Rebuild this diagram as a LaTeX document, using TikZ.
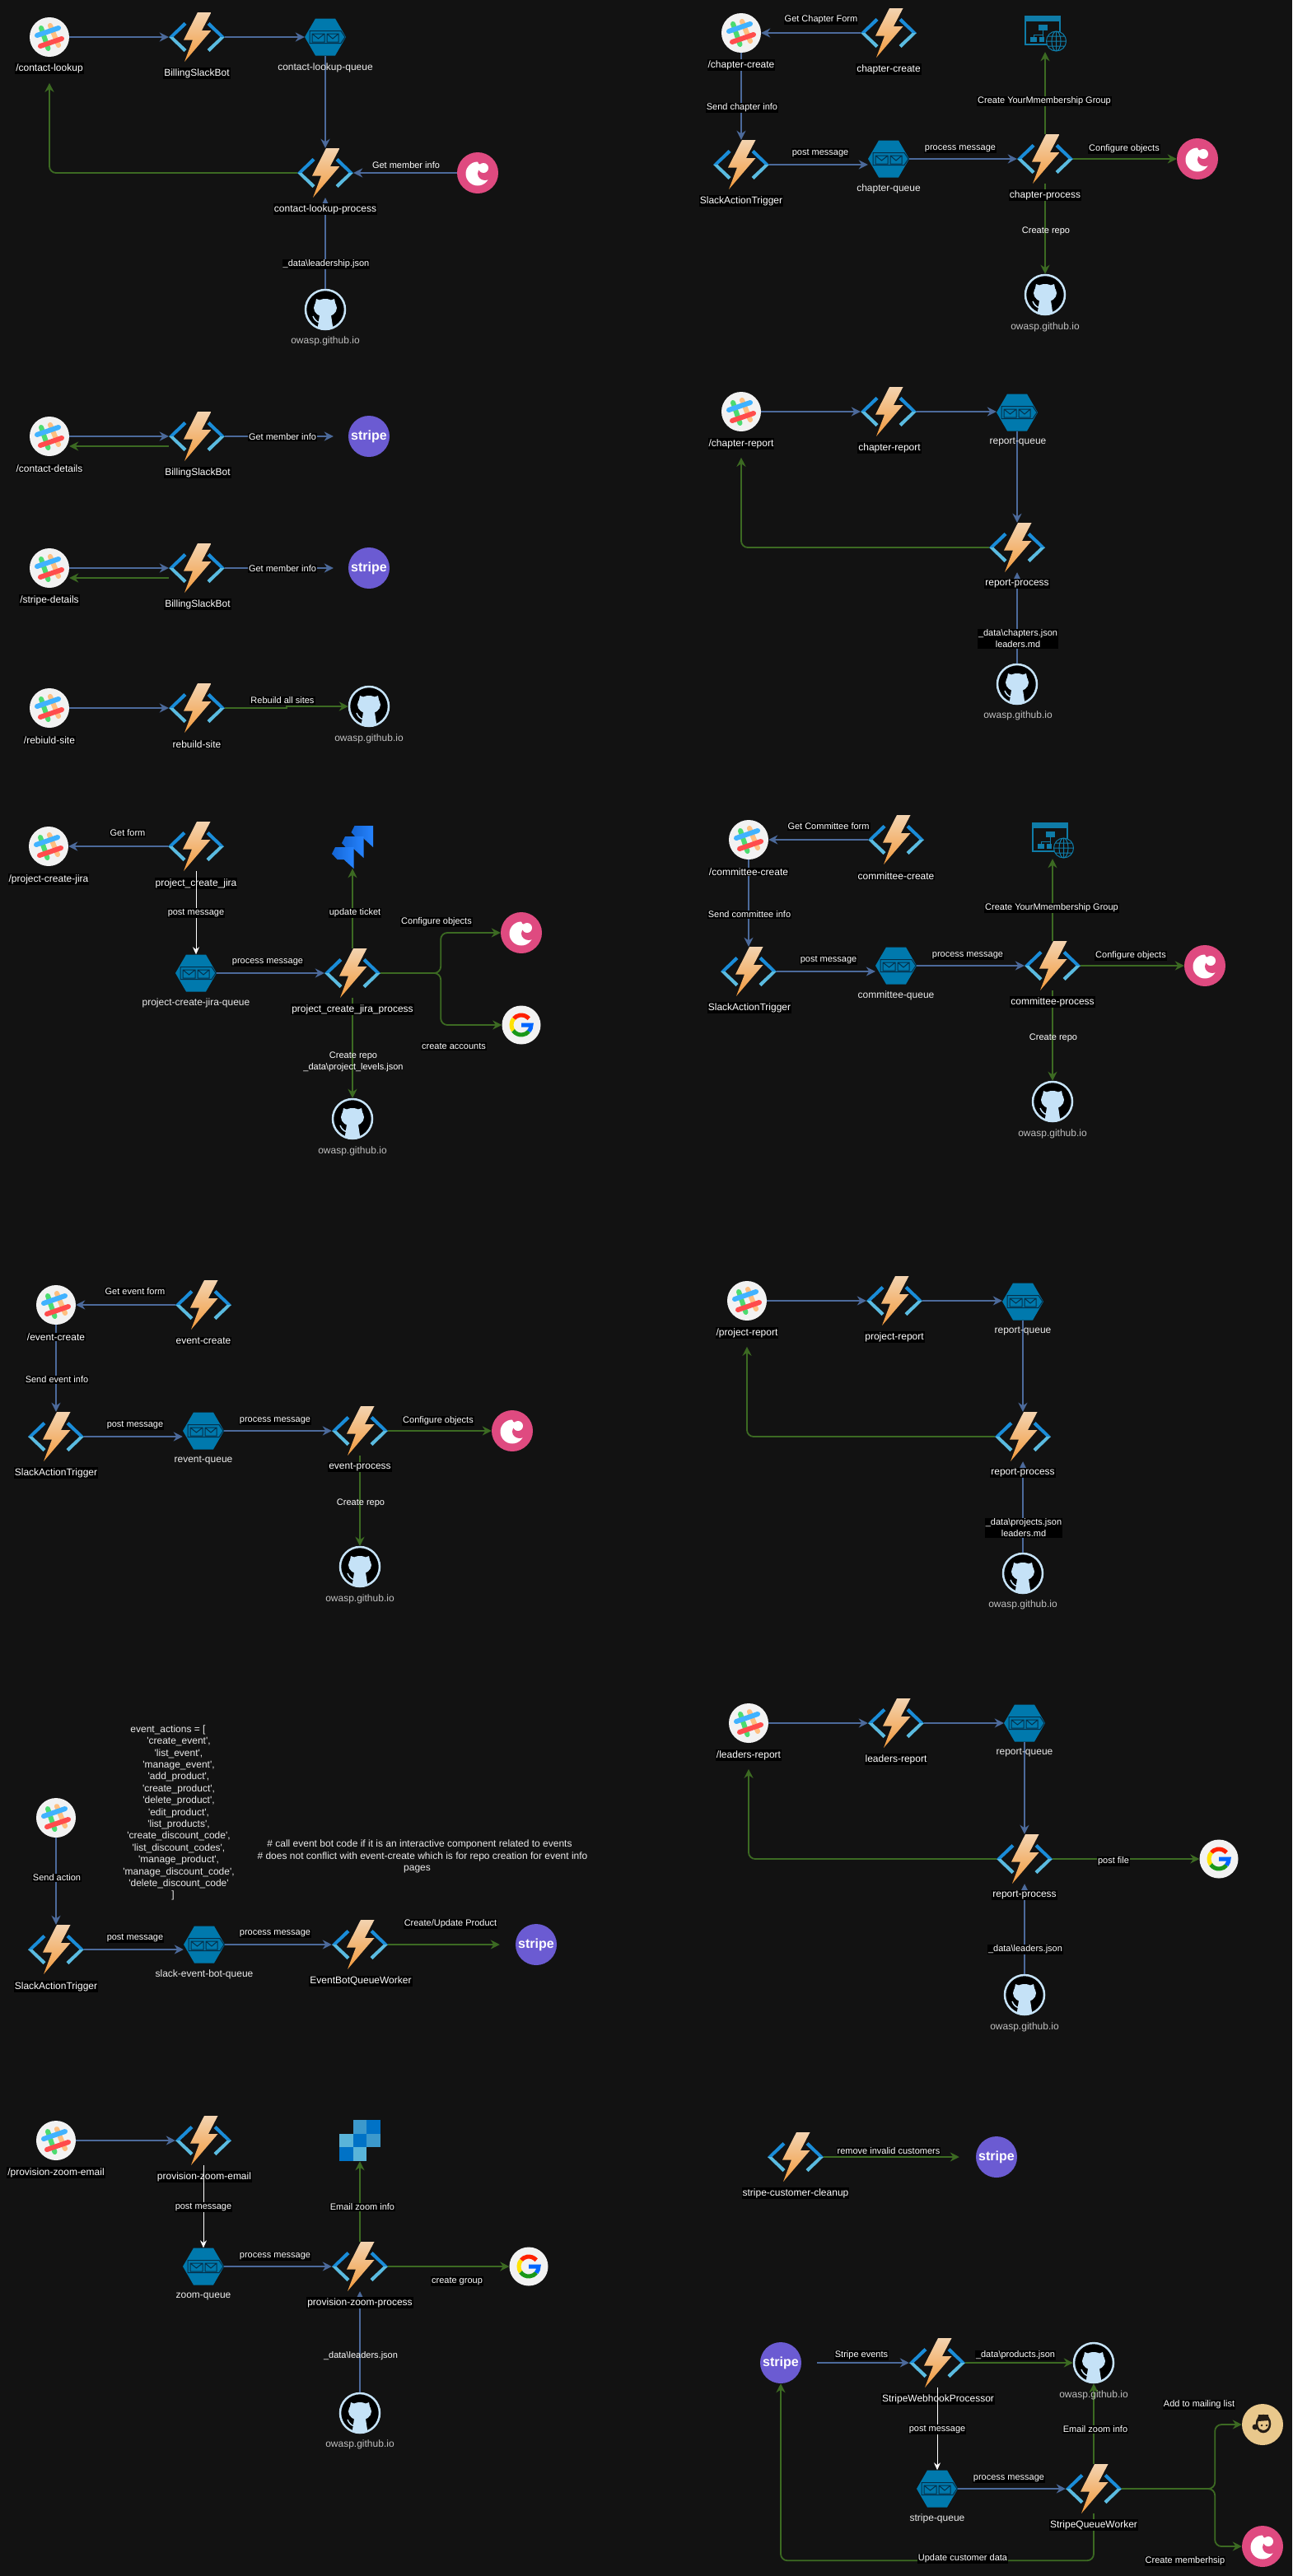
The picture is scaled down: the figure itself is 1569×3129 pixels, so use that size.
\documentclass[tikz,border=0pt]{standalone}
\usepackage{fontspec}
\usepackage{amsmath}
\usepackage{tikz}
\usetikzlibrary{arrows.meta,shapes.geometric}
\newfontfamily\labelfont{Liberation Sans}
\definecolor{bgdark}{HTML}{121212}
\definecolor{flowblue}{HTML}{4C6A9B}
\definecolor{flowgreen}{HTML}{3C6A22}
\definecolor{armdark}{HTML}{1A8CD8}
\definecolor{armlight}{HTML}{5ABBE0}
\definecolor{bolttop}{HTML}{F3D3B0}
\definecolor{boltlow}{HTML}{F39A3C}
\definecolor{queueblue}{HTML}{0079AD}
\definecolor{queueline}{HTML}{05304A}
\definecolor{coppink}{HTML}{DF4A80}
\definecolor{stripeviolet}{HTML}{6B5BD2}
\definecolor{hubblue}{HTML}{C5E2F7}
\definecolor{ymblue}{HTML}{0F7CA8}
\definecolor{chimptan}{HTML}{E9C88C}
\definecolor{chimpdark}{HTML}{241C15}
\definecolor{jiralow}{HTML}{1464D2}
\definecolor{jirahigh}{HTML}{2684FF}
\tikzset{
  tagbox/.style={fill=black,text=white,inner sep=1pt,font=\labelfont\fontsize{12}{14.4}\selectfont},
  freetag/.style={text=black!8!white,inner sep=1pt,font=\labelfont\fontsize{12}{14.4}\selectfont,align=center},
  gittag/.style={text=black!25!white,inner sep=1pt,font=\labelfont\fontsize{12}{14.4}\selectfont},
  msgtag/.style={fill=black,text=white,inner sep=1pt,align=center,font=\labelfont\fontsize{11}{14}\selectfont},
  loosemsg/.style={text=white,inner sep=1pt,align=center,font=\labelfont\fontsize{11}{14}\selectfont},
  bflow/.style={draw=flowblue,line width=1.8pt,-{Stealth[length=11pt,width=11pt]}},
  gflow/.style={draw=flowgreen,line width=1.8pt,-{Stealth[length=11pt,width=11pt]}},
  wflow/.style={draw=white,line width=1pt,-{Stealth[length=9pt,width=8pt]}},
  slackicon/.style={shape=circle,minimum size=48pt,inner sep=0pt,fill=black!5!white,path picture={
    \begin{scope}[shift={(path picture bounding box.center)},line width=6pt,line cap=round]
    \draw[color=green!60!teal!70!white] (-10,-11) -- (-1.5,14);
    \draw[color=orange!50!white] (1,-14) -- (11,10);
    \draw[color=blue!40!cyan!75!white] (-15,-2) -- (11,-11);
    \draw[color=red!70!white] (-11,11) -- (15,2);
    \end{scope}}},
  funcicon/.style={shape=rectangle,minimum width=68pt,minimum height=60pt,inner sep=0pt,path picture={
    \begin{scope}[shift={(path picture bounding box.center)}]
    \fill[armdark] (-34,0) -- (-15.5,-18) -- (-12.5,-15) -- (-28.5,0) -- cycle;
    \fill[armlight] (-34,0) -- (-28.5,0) -- (-12.5,15) -- (-15.5,18) -- cycle;
    \fill[armdark] (34,0) -- (15.5,-18) -- (12.5,-15) -- (28.5,0) -- cycle;
    \fill[armlight] (34,0) -- (28.5,0) -- (12.5,15) -- (15.5,18) -- cycle;
    \shade[top color=bolttop,bottom color=boltlow] (1,-30) -- (17.5,-30) -- (6,-8) -- (17.5,-8) -- (-15,30) -- (-5,3.5) -- (-16,3.5) -- cycle;
    \end{scope}}},
  queueicon/.style={shape=rectangle,minimum width=50pt,minimum height=45pt,inner sep=0pt,path picture={
    \begin{scope}[shift={(path picture bounding box.center)}]
    \fill[queueblue] (-25,0) -- (-12,-22.5) -- (12,-22.5) -- (25,0) -- (12,22.5) -- (-12,22.5) -- cycle;
    \draw[queueline,line width=1pt] (-19,-7.5) -- (19,-7.5) -- (24,0) -- (19,7.5) -- (-19,7.5) -- cycle;
    \draw[queueline,line width=1pt] (-16,-4) rectangle (-1,6) (-16,-4) -- (-8.5,2) -- (-1,-4);
    \draw[queueline,line width=1pt] (2,-4) rectangle (16,6) (2,-4) -- (9,2) -- (16,-4);
    \end{scope}}},
  coppericon/.style={shape=circle,minimum size=50pt,inner sep=0pt,fill=coppink,path picture={
    \begin{scope}[shift={(path picture bounding box.center)}]
    \fill[white] (0,1) circle (14.5pt);
    \fill[coppink] (9,1) ellipse [x radius=9pt,y radius=8pt];
    \fill[coppink] (4,-14) circle (4pt);
    \fill[white] (7,-6) circle (6pt);
    \end{scope}}},
  stripeicon/.style={shape=circle,minimum size=50pt,inner sep=0pt,fill=stripeviolet,text=white,font=\labelfont\bfseries\fontsize{16}{16}\selectfont},
  hubicon/.style={shape=circle,minimum size=48pt,inner sep=0pt,fill=black,draw=hubblue,line width=2.5pt,path picture={
    \begin{scope}[shift={(path picture bounding box.center)}]
    \fill[hubblue] (0,-2) ellipse [x radius=14pt,y radius=11pt];
    \fill[hubblue] (-13,-3) -- (-11,-13) -- (-3,-10) -- cycle;
    \fill[hubblue] (13,-3) -- (11,-13) -- (3,-10) -- cycle;
    \fill[hubblue] (-7,7) -- (7,7) -- (10,27) -- (-10,27) -- cycle;
    \draw[hubblue,line width=1.5pt] (-15,8) .. controls (-12,15) and (-8,16) .. (-6,15);
    \end{scope}}},
  gicon/.style={shape=circle,minimum size=47pt,inner sep=0pt,fill=black!5!white,path picture={
    \begin{scope}[shift={(path picture bounding box.center)},line width=5pt]
    \draw[color=red!75!orange] ([shift={(40:12pt)}]0,0) arc[start angle=40,end angle=140,radius=12pt];
    \draw[color=yellow!85!orange] ([shift={(140:12pt)}]0,0) arc[start angle=140,end angle=215,radius=12pt];
    \draw[color=green!55!black!90!white] ([shift={(215:12pt)}]0,0) arc[start angle=215,end angle=320,radius=12pt];
    \draw[color=blue!60!cyan] ([shift={(320:12pt)}]0,0) arc[start angle=320,end angle=360,radius=12pt] -- (0,0);
    \end{scope}}},
  jiraicon/.style={shape=rectangle,minimum size=52pt,inner sep=0pt,path picture={
    \begin{scope}[shift={(path picture bounding box.center)}]
    \foreach \jx/\jy in {-1.5/-26,-13/-13,-25/0}
      \shade[left color=jiralow,right color=jirahigh] (\jx+4,\jy) -- ++(22.5,0) -- ++(0,26) -- ++(-12,-11) -- ++(-8,0) -- ++(-6.5,-7) -- cycle;
    \end{scope}}},
  ymicon/.style={shape=rectangle,minimum width=52pt,minimum height=44pt,inner sep=0pt,path picture={
    \begin{scope}[shift={(path picture bounding box.center)}]
    \draw[ymblue,line width=1.3pt] (-24,-21) rectangle (18,13);
    \fill[ymblue] (-24,-21) rectangle (18,-15);
    \fill[ymblue] (-8,-11) rectangle (3,-4);
    \draw[ymblue,line width=1pt] (-2.5,-4) -- (-2.5,1) (-14,4) -- (-14,1) -- (-3,1) -- (-3,4);
    \fill[ymblue] (-18,4) rectangle (-10,10);
    \fill[ymblue] (-7,4) rectangle (-1,10);
    \fill[bgdark] (13.5,9) circle (12pt);
    \draw[ymblue,line width=1pt] (13.5,9) circle (12pt) (13.5,9) ellipse [x radius=5.5pt,y radius=12pt] (1.5,9) -- (25.5,9) (3,3) -- (24,3) (3,15) -- (24,15) (13.5,-3) -- (13.5,21);
    \end{scope}}},
  azicon/.style={shape=rectangle,minimum size=50pt,inner sep=0pt,path picture={
    \begin{scope}[shift={(path picture bounding box.center)}]
    \foreach \ax/\ay/\acol in {0/-25/3C99CC,16.67/-25/0072C6,-16.67/-8.33/59B4D9,0/-8.33/0072C6,16.67/-8.33/3C99CC,-16.67/8.33/0072C6,0/8.33/59B4D9}{
      \definecolor{azcell}{HTML}{\acol}
      \fill[azcell] (\ax-8.33,\ay) rectangle (\ax+8.33,\ay+16.67);}
    \end{scope}}},
  chimpicon/.style={shape=circle,minimum size=50pt,inner sep=0pt,fill=chimptan,path picture={
    \begin{scope}[shift={(path picture bounding box.center)}]
    \fill[chimpdark] (-9,3) circle (3.5pt);
    \draw[chimpdark,line width=2.5pt,fill=chimptan] (1,-1) ellipse [x radius=8pt,y radius=10pt];
    \fill[chimpdark] (-5,-12) -- (7,-12) -- (8,-5) -- (-6,-4) -- cycle;
    \fill[chimpdark] (5,1) circle (1.3pt) (-1,1) circle (1.3pt);
    \draw[chimpdark,line width=1pt] (-3,6) .. controls (0,8) and (4,8) .. (6,5);
    \end{scope}}}
}
\begin{document}
\begin{tikzpicture}[x=1pt,y=-1pt]
\fill[bgdark] (0,0) rectangle (1569,3129);
\useasboundingbox (0,0) rectangle (1569,3129);

\node[slackicon] (slack1) at (60,45) {};
\node[funcicon] (bot1) at (239,45) {};
\node[queueicon] (queue1) at (395,45) {};
\node[funcicon] (proc1) at (395,210) {};
\node[coppericon] (copper1) at (580,210) {};
\node[hubicon] (hub1) at (395,376) {};
\node[tagbox] (slack1t) at (60,83) {/contact-lookup};
\draw[bflow] (slack1.east) -- (bot1.west);
\draw[bflow] (bot1.east) -- (queue1.west);
\draw[bflow] (queue1.south) -- (proc1.north);
\draw[bflow] (copper1.west) -- (proc1.east);
\draw[bflow] (hub1.north) -- (proc1.south);
\draw[gflow,rounded corners=8pt,shorten >=11pt] (proc1.west) -| (slack1t.south);
\node[tagbox] (bot1t) at (239,89) {BillingSlackBot};
\node[freetag] (queue1t) at (395,82) {contact-lookup-queue};
\node[tagbox] (proc1t) at (395,254) {contact-lookup-process};
\node[gittag] (hub1t) at (395,414) {owasp.github.io};
\node[loosemsg] (msg1a) at (493,201) {Get member info};
\node[msgtag] (msg1b) at (396,321) {\_data\textbackslash leadership.json};

\node[slackicon] (slack2) at (900,40) {};
\node[funcicon] (form2) at (1079,40) {};
\node[funcicon] (trig2) at (900,200) {};
\node[queueicon] (queue2) at (1079,193) {};
\node[funcicon] (proc2) at (1269,193) {};
\node[ymicon] (ym2) at (1269,41) {};
\node[coppericon] (copper2) at (1454,193) {};
\node[hubicon] (hub2) at (1269,358) {};
\draw[bflow] (form2.west) -- (slack2.east);
\draw[bflow] (slack2.south) -- (trig2.north);
\draw[bflow] (trig2.east) -- (trig2.east -| queue2.west);
\draw[bflow] (queue2.east) -- (proc2.west);
\draw[gflow] (proc2.north) -- (ym2.south);
\draw[gflow] (proc2.east) -- (copper2.west);
\draw[gflow] (proc2.south) -- (hub2.north);
\node[tagbox] (slack2t) at (900,79) {/chapter-create};
\node[tagbox] (form2t) at (1079,84) {chapter-create};
\node[tagbox] (trig2t) at (900,244) {SlackActionTrigger};
\node[freetag] (queue2t) at (1079,229) {chapter-queue};
\node[tagbox] (proc2t) at (1269,237) {chapter-process};
\node[gittag] (hub2t) at (1269,397) {owasp.github.io};
\node[msgtag] (msg2a) at (997,24) {Get Chapter Form};
\node[msgtag] (msg2b) at (901,131) {Send chapter info};
\node[msgtag] (msg2c) at (996,186) {post message};
\node[msgtag] (msg2d) at (1166,181) {process message};
\node[msgtag] (msg2e) at (1268,123) {Create YourMmembership Group};
\node[msgtag] (msg2f) at (1365,181) {Configure objects};
\node[loosemsg] (msg2g) at (1270,281) {Create repo};

\node[slackicon] (slack3) at (60,530) {};
\node[funcicon] (bot3) at (239,530) {};
\node[stripeicon] (stripe3) at (448,530) {stripe};
\draw[bflow] (slack3.east) -- (bot3.west);
\draw[gflow] ([yshift=-12pt]bot3.west) -- ([yshift=-12pt]slack3.east);
\draw[bflow,shorten >=18pt] (bot3.east) -- (stripe3.west);
\node[tagbox] (slack3t) at (60,569) {/contact-details};
\node[tagbox] (bot3t) at (240,574) {BillingSlackBot};
\node[msgtag] (msg3a) at (343,531) {Get member info};

\node[slackicon] (slack4) at (60,690) {};
\node[funcicon] (bot4) at (239,690) {};
\node[stripeicon] (stripe4) at (448,690) {stripe};
\draw[bflow] (slack4.east) -- (bot4.west);
\draw[gflow] ([yshift=-12pt]bot4.west) -- ([yshift=-12pt]slack4.east);
\draw[bflow,shorten >=18pt] (bot4.east) -- (stripe4.west);
\node[tagbox] (slack4t) at (60,729) {/stripe-details};
\node[tagbox] (bot4t) at (240,734) {BillingSlackBot};
\node[msgtag] (msg4a) at (343,691) {Get member info};

\node[slackicon] (slack5) at (60,860) {};
\node[funcicon] (bot5) at (239,860) {};
\node[hubicon] (hub5) at (448,858) {};
\draw[bflow] (slack5.east) -- (bot5.west);
\draw[gflow] (bot5.east) -- ++(75,0) |- (hub5.west);
\node[tagbox] (slack5t) at (60,899) {/rebiuld-site};
\node[tagbox] (bot5t) at (239,904) {rebuild-site};
\node[gittag] (hub5t) at (448,897) {owasp.github.io};
\node[msgtag] (msg5a) at (343,851) {Rebuild all sites};

\node[slackicon] (slack6) at (59,1028) {};
\node[funcicon] (form6) at (238,1028) {};
\node[queueicon] (queue6) at (238,1182) {};
\node[funcicon] (proc6) at (428,1182) {};
\node[jiraicon] (jira6) at (428,1029) {};
\node[coppericon] (copper6) at (633,1133) {};
\node[gicon] (goog6) at (633,1245) {};
\node[hubicon] (hub6) at (428,1359) {};
\draw[bflow] (form6.west) -- (slack6.east);
\draw[bflow] (queue6.east) -- (proc6.west);
\draw[gflow] (proc6.north) -- (jira6.south);
\draw[gflow,rounded corners=8pt] (proc6.east) -- ++(73,0) |- (copper6.west);
\draw[gflow,rounded corners=8pt] (proc6.east) -- ++(73,0) |- (goog6.west);
\draw[gflow] (proc6.south) -- (hub6.north);
\node[tagbox] (slack6t) at (59,1068) {/project-create-jira};
\node[tagbox] (form6t) at (238,1073) {project\_create\_jira};
\node[freetag] (queue6t) at (238,1218) {project-create-jira-queue};
\node[tagbox] (proc6t) at (428,1226) {project\_create\_jira\_process};
\node[gittag] (hub6t) at (428,1398) {owasp.github.io};
\draw[wflow] (form6.south) -- (queue6.north);
\node[msgtag] (msg6a) at (155,1012) {Get form};
\node[msgtag] (msg6b) at (238,1109) {post message};
\node[msgtag] (msg6c) at (325,1169) {process message};
\node[msgtag] (msg6d) at (431,1109) {update ticket};
\node[msgtag] (msg6e) at (530,1120) {Configure objects};
\node[msgtag] (msg6f) at (551,1271) {create accounts};
\node[loosemsg] (msg6g) at (429,1290) {Create repo\\\_data\textbackslash project\_levels.json};

\node[slackicon] (slack7) at (68,1585) {};
\node[funcicon] (form7) at (247,1585) {};
\node[funcicon] (trig7) at (68,1745) {};
\node[queueicon] (queue7) at (247,1738) {};
\node[funcicon] (proc7) at (437,1738) {};
\node[coppericon] (copper7) at (622,1738) {};
\node[hubicon] (hub7) at (437,1903) {};
\draw[bflow] (form7.west) -- (slack7.east);
\draw[bflow] (slack7.south) -- (trig7.north);
\draw[bflow] (trig7.east) -- (trig7.east -| queue7.west);
\draw[bflow] (queue7.east) -- (proc7.west);
\draw[gflow] (proc7.east) -- (copper7.west);
\draw[gflow] (proc7.south) -- (hub7.north);
\node[tagbox] (slack7t) at (68,1624) {/event-create};
\node[tagbox] (form7t) at (247,1629) {event-create};
\node[tagbox] (trig7t) at (68,1789) {SlackActionTrigger};
\node[freetag] (queue7t) at (247,1774) {revent-queue};
\node[tagbox] (proc7t) at (437,1782) {event-process};
\node[gittag] (hub7t) at (437,1942) {owasp.github.io};
\node[msgtag] (msg7a) at (164,1569) {Get event form};
\node[msgtag] (msg7b) at (69,1676) {Send event info};
\node[msgtag] (msg7c) at (164,1731) {post message};
\node[msgtag] (msg7d) at (334,1726) {process message};
\node[msgtag] (msg7e) at (532,1726) {Configure objects};
\node[loosemsg] (msg7f) at (438,1826) {Create repo};

\node[slackicon] (slack8) at (68,2208) {};
\node[funcicon] (trig8) at (68,2368) {};
\node[queueicon] (queue8) at (248,2362) {};
\node[funcicon] (work8) at (437,2362) {};
\node[stripeicon] (stripe8) at (651,2362) {stripe};
\draw[bflow] (slack8.south) -- (trig8.north);
\draw[bflow] (trig8.east) -- (trig8.east -| queue8.west);
\draw[bflow] (queue8.east) -- (work8.west);
\draw[gflow,shorten >=19pt] (work8.east) -- (stripe8.west);
\node[tagbox] (trig8t) at (68,2413) {SlackActionTrigger};
\node[freetag] (queue8t) at (248,2398) {slack-event-bot-queue};
\node[tagbox] (work8t) at (438,2406) {EventBotQueueWorker};
\node[msgtag] (msg8a) at (69,2281) {Send action};
\node[msgtag] (msg8b) at (164,2354) {post message};
\node[msgtag] (msg8c) at (334,2349) {process message};
\node[msgtag] (msg8d) at (547,2337) {Create/Update Product};
\node[freetag] (code8) at (217,2202) {event\_actions = [\rule{26pt}{0pt}\\'create\_event',\\'list\_event',\\'manage\_event',\\'add\_product',\\'create\_product',\\'delete\_product',\\'edit\_product',\\'list\_products',\\'create\_discount\_code',\\'list\_discount\_codes',\\'manage\_product',\\'manage\_discount\_code',\\'delete\_discount\_code'\\]\rule{14pt}{0pt}};
\node[freetag] (note8) at (513,2255) {\# call event bot code if it is an interactive component related to events\rule{7pt}{0pt}\\\# does not conflict with event-create which is for repo creation for event info\\pages\rule{13pt}{0pt}};

\node[slackicon] (slack9) at (68,2600) {};
\node[funcicon] (form9) at (247,2600) {};
\node[queueicon] (queue9) at (247,2753) {};
\node[funcicon] (proc9) at (437,2753) {};
\node[azicon] (az9) at (437,2600) {};
\node[gicon] (goog9) at (642,2753) {};
\node[hubicon] (hub9) at (437,2931) {};
\draw[bflow] (slack9.east) -- (form9.west);
\draw[bflow] (queue9.east) -- (proc9.west);
\draw[gflow] (proc9.north) -- (az9.south);
\draw[gflow] (proc9.east) -- (goog9.west);
\draw[bflow] (hub9.north) -- (proc9.south);
\node[tagbox] (slack9t) at (68,2639) {/provision-zoom-email};
\node[tagbox] (form9t) at (248,2644) {provision-zoom-email};
\node[freetag] (queue9t) at (247,2789) {zoom-queue};
\node[tagbox] (proc9t) at (437,2797) {provision-zoom-process};
\node[gittag] (hub9t) at (437,2969) {owasp.github.io};
\draw[wflow] (form9.south) -- (queue9.north);
\node[msgtag] (msg9a) at (247,2681) {post message};
\node[msgtag] (msg9b) at (334,2741) {process message};
\node[msgtag] (msg9c) at (440,2681) {Email zoom info};
\node[msgtag] (msg9d) at (555,2771) {create group};
\node[loosemsg] (msg9e) at (438,2862) {\_data\textbackslash leaders.json};

\node[slackicon] (slack10) at (900,500) {};
\node[funcicon] (bot10) at (1079,500) {};
\node[queueicon] (queue10) at (1235,501) {};
\node[funcicon] (proc10) at (1235,665) {};
\node[hubicon] (hub10) at (1235,831) {};
\node[tagbox] (slack10t) at (900,539) {/chapter-report};
\draw[bflow] (slack10.east) -- (bot10.west);
\draw[bflow] (bot10.east) -- (bot10.east -| queue10.west);
\draw[bflow] (queue10.south) -- (proc10.north);
\draw[bflow] (hub10.north) -- (proc10.south);
\draw[gflow,rounded corners=8pt,shorten >=10pt] (proc10.west) -| (slack10t.south);
\node[tagbox] (bot10t) at (1080,544) {chapter-report};
\node[freetag] (queue10t) at (1236,537) {report-queue};
\node[tagbox] (proc10t) at (1235,709) {report-process};
\node[gittag] (hub10t) at (1236,869) {owasp.github.io};
\node[msgtag] (msg10a) at (1236,776) {\_data\textbackslash chapters.json\\leaders.md};

\node[slackicon] (slack11) at (909,1020) {};
\node[funcicon] (form11) at (1088,1020) {};
\node[funcicon] (trig11) at (909,1180) {};
\node[queueicon] (queue11) at (1088,1173) {};
\node[funcicon] (proc11) at (1278,1173) {};
\node[ymicon] (ym11) at (1278,1021) {};
\node[coppericon] (copper11) at (1463,1173) {};
\node[hubicon] (hub11) at (1278,1338) {};
\draw[bflow] (form11.west) -- (slack11.east);
\draw[bflow] (slack11.south) -- (trig11.north);
\draw[bflow] (trig11.east) -- (trig11.east -| queue11.west);
\draw[bflow] (queue11.east) -- (proc11.west);
\draw[gflow] (proc11.north) -- (ym11.south);
\draw[gflow] (proc11.east) -- (copper11.west);
\draw[gflow] (proc11.south) -- (hub11.north);
\node[tagbox] (slack11t) at (909,1059) {/committee-create};
\node[tagbox] (form11t) at (1088,1064) {committee-create};
\node[tagbox] (trig11t) at (910,1224) {SlackActionTrigger};
\node[freetag] (queue11t) at (1088,1209) {committee-queue};
\node[tagbox] (proc11t) at (1278,1217) {committee-process};
\node[gittag] (hub11t) at (1278,1377) {owasp.github.io};
\node[msgtag] (msg11a) at (1006,1004) {Get Committee form};
\node[msgtag] (msg11b) at (910,1111) {Send committee info};
\node[msgtag] (msg11c) at (1006,1166) {post message};
\node[msgtag] (msg11d) at (1175,1161) {process message};
\node[msgtag] (msg11e) at (1277,1103) {Create YourMmembership Group};
\node[msgtag] (msg11f) at (1373,1161) {Configure objects};
\node[loosemsg] (msg11g) at (1279,1261) {Create repo};

\node[slackicon] (slack12) at (907,1580) {};
\node[funcicon] (bot12) at (1086,1580) {};
\node[queueicon] (queue12) at (1242,1581) {};
\node[funcicon] (proc12) at (1242,1745) {};
\node[hubicon] (hub12) at (1242,1911) {};
\node[tagbox] (slack12t) at (907,1619) {/project-report};
\draw[bflow] (slack12.east) -- (bot12.west);
\draw[bflow] (bot12.east) -- (bot12.east -| queue12.west);
\draw[bflow] (queue12.south) -- (proc12.north);
\draw[bflow] (hub12.north) -- (proc12.south);
\draw[gflow,rounded corners=8pt,shorten >=10pt] (proc12.west) -| (slack12t.south);
\node[tagbox] (bot12t) at (1086,1624) {project-report};
\node[freetag] (queue12t) at (1242,1617) {report-queue};
\node[tagbox] (proc12t) at (1242,1789) {report-process};
\node[gittag] (hub12t) at (1242,1949) {owasp.github.io};
\node[msgtag] (msg12a) at (1243,1856) {\_data\textbackslash projects.json\\leaders.md};

\node[slackicon] (slack13) at (909,2093) {};
\node[funcicon] (bot13) at (1088,2093) {};
\node[queueicon] (queue13) at (1244,2093) {};
\node[funcicon] (proc13) at (1244,2258) {};
\node[gicon] (goog13) at (1480,2258) {};
\node[hubicon] (hub13) at (1244,2423) {};
\node[tagbox] (slack13t) at (909,2132) {/leaders-report};
\draw[bflow] (slack13.east) -- (bot13.west);
\draw[bflow] (bot13.east) -- (queue13.west);
\draw[bflow] (queue13.south) -- (proc13.north);
\draw[bflow] (hub13.north) -- (proc13.south);
\draw[gflow] (proc13.east) -- (goog13.west);
\draw[gflow,rounded corners=8pt,shorten >=10pt] (proc13.west) -| (slack13t.south);
\node[tagbox] (bot13t) at (1088,2137) {leaders-report};
\node[freetag] (queue13t) at (1244,2129) {report-queue};
\node[tagbox] (proc13t) at (1244,2302) {report-process};
\node[gittag] (hub13t) at (1244,2462) {owasp.github.io};
\node[msgtag] (msg13a) at (1352,2261) {post file};
\node[msgtag] (msg13b) at (1245,2368) {\_data\textbackslash leaders.json};

\node[funcicon] (clean14) at (966,2620) {};
\node[stripeicon] (stripe14) at (1210,2620) {stripe};
\draw[gflow,shorten >=20pt] (clean14.east) -- (stripe14.west);
\node[tagbox] (clean14t) at (966,2664) {stripe-customer-cleanup};
\node[msgtag] (msg14a) at (1079,2613) {remove invalid customers};

\node[stripeicon] (stripe15) at (948,2870) {stripe};
\node[funcicon] (hook15) at (1138,2870) {};
\node[hubicon] (hub15) at (1328,2870) {};
\node[queueicon] (queue15) at (1138,3023) {};
\node[funcicon] (work15) at (1328,3023) {};
\node[chimpicon] (chimp15) at (1533,2945) {};
\node[coppericon] (copper15) at (1533,3093) {};
\draw[bflow,shorten <=19pt] (stripe15.east) -- (hook15.west);
\draw[gflow] (hook15.east) -- (hub15.west);
\draw[bflow] (queue15.east) -- (work15.west);
\draw[gflow] (work15.north) -- (hub15.south);
\draw[gflow,rounded corners=8pt] (work15.south) -- ++(0,57) -| (stripe15.south);
\draw[gflow,rounded corners=8pt] (work15.east) -- ++(113,0) |- (chimp15.west);
\draw[gflow,rounded corners=8pt] (work15.east) -- ++(113,0) |- (copper15.west);
\node[tagbox] (hook15t) at (1139,2914) {StripeWebhookProcessor};
\node[gittag] (hub15t) at (1328,2909) {owasp.github.io};
\node[freetag] (queue15t) at (1138,3059) {stripe-queue};
\node[tagbox] (work15t) at (1328,3067) {StripeQueueWorker};
\draw[wflow] (hook15.south) -- (queue15.north);
\node[msgtag] (msg15a) at (1046,2861) {Stripe events};
\node[msgtag] (msg15b) at (1233,2861) {\_data\textbackslash products.json};
\node[msgtag] (msg15c) at (1138,2951) {post message};
\node[msgtag] (msg15d) at (1225,3011) {process message};
\node[msgtag] (msg15e) at (1330,2951) {Email zoom info};
\node[msgtag] (msg15f) at (1456,2921) {Add to mailing list};
\node[msgtag] (msg15g) at (1439,3111) {Create memberhsip};
\node[msgtag] (msg15h) at (1169,3108) {Update customer data};
\end{tikzpicture}
\end{document}
